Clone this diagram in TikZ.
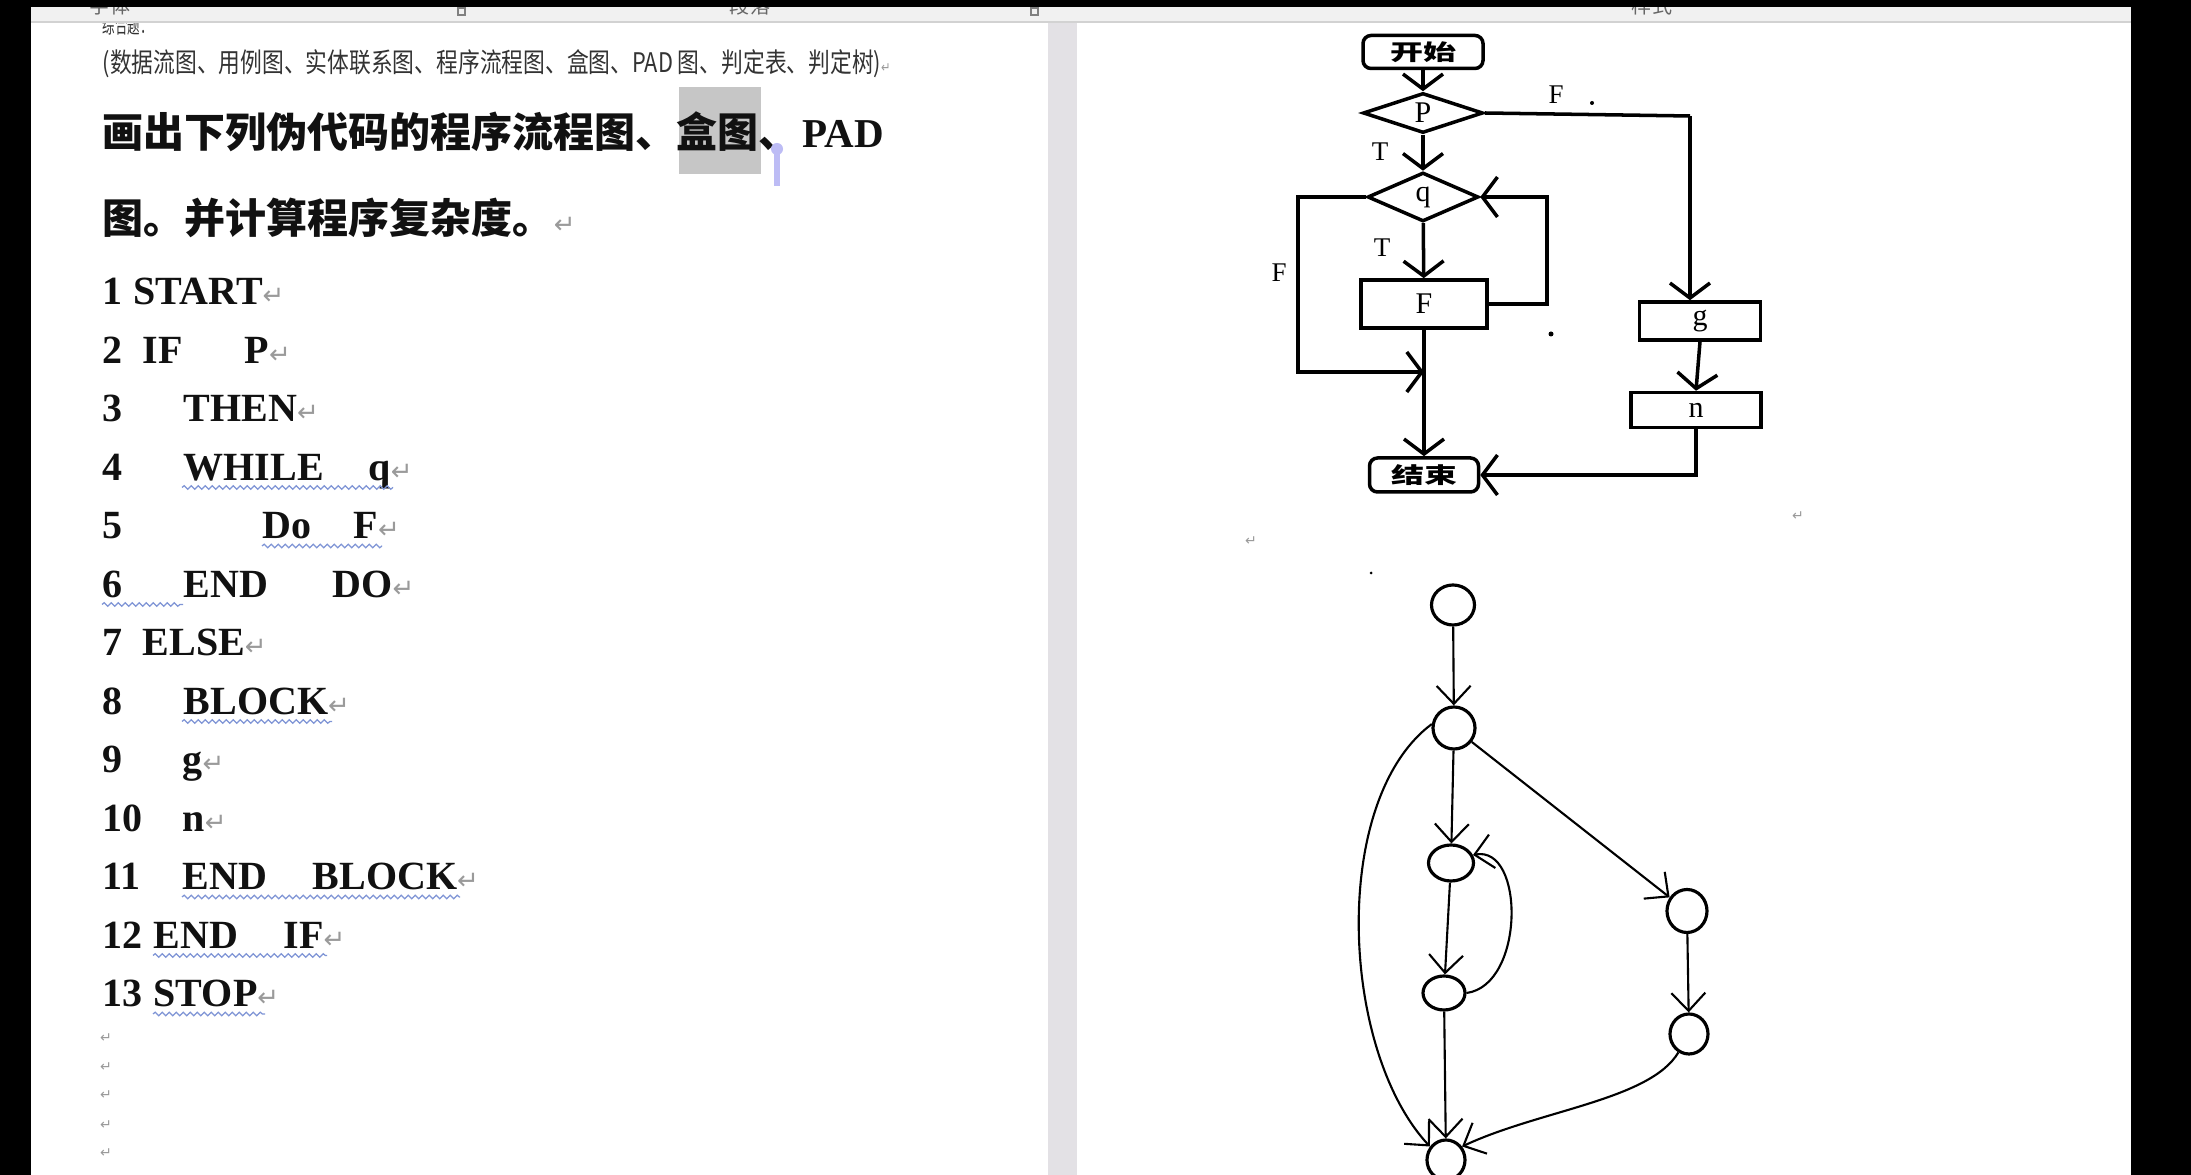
\documentclass[tikz,border=0pt]{standalone}
\usepackage{graphicx}
\usepackage{xcolor}
\usepackage{fontspec}
\setmainfont{Liberation Serif}
\newfontfamily\cjk{Noto Sans CJK SC}
\newfontfamily\symb{DejaVu Sans}
\usetikzlibrary{arrows.meta, shapes.geometric, decorations.pathmorphing, calc}

\newdimen\pxu \pxu=0.1mm
\definecolor{bargray}{HTML}{F1F1F1}
\definecolor{gapgray}{HTML}{E3E1E5}
\definecolor{hlgray}{HTML}{C6C6C6}
\definecolor{retgray}{HTML}{9A9A9A}
\definecolor{smallgray}{HTML}{333333}
\definecolor{inkblack}{HTML}{111111}
\definecolor{squigblue}{HTML}{7F95D6}
\definecolor{cursorblue}{HTML}{BDBCF5}
\newcommand{\ret}{{\mdseries\color{retgray}\symb\fontsize{7.4pt}{7.4pt}\selectfont ↵}}
\newcommand{\tinyret}{{\color{retgray}\symb\fontsize{4pt}{4pt}\selectfont ↵}}

\tikzset{
  codetxt/.style={anchor=base west, inner sep=0pt, text=inkblack,
    font=\fontsize{11.38pt}{12pt}\selectfont\bfseries},
  squiggle/.style={draw=squigblue, line width=0.35pt, decorate,
    decoration={snake, segment length=0.7mm, amplitude=0.18mm}},
  fcline/.style={line width=1pt},
  fcarrow/.style={fcline, -{Straight Barb[length=1.5mm, width=4mm]}},
  fcbox/.style={draw, line width=1pt, inner sep=0pt, font=\fontsize{8.54pt}{9pt}\selectfont},
  fcterm/.style={fcbox, rounded corners=0.8mm, font=\cjk\bfseries\fontsize{6.26pt}{7pt}\selectfont},
  fcdec/.style={fcbox, diamond, aspect=3},
  fclabel/.style={inner sep=0pt, font=\fontsize{7.68pt}{8pt}\selectfont},
  fgnode/.style={ellipse, draw, line width=0.9pt, inner sep=0pt},
  fgedge/.style={line width=0.6pt, -{Straight Barb[length=1.8mm, width=3.4mm]}},
  bartxt/.style={inner sep=0pt, text=black!60, font=\cjk\fontsize{5.7pt}{6pt}\selectfont}
}

\begin{document}
\begin{tikzpicture}[x=0.1mm, y=-0.1mm]
\useasboundingbox (0,0) rectangle (2191,1175);

% screen and pages
\fill[black] (0,0) rectangle (2191,1175);
\fill[white] (31,22) rectangle (1048,1175);
\fill[gapgray] (1048,22) rectangle (1077,1175);
\fill[white] (1077,22) rectangle (2131,1175);

% left page text
\node[anchor=base west, inner sep=0pt, text=smallgray, font=\cjk\fontsize{6.26pt}{7pt}\selectfont]
  (section) at (102,34) {\resizebox{50\pxu}{\height}{综合题：}};
\node[anchor=base west, inner sep=0pt, text=smallgray, font=\cjk\fontsize{7.68pt}{8pt}\selectfont]
  (typeList) at (102,73) {\resizebox{788\pxu}{\height}{(数据流图、用例图、实体联系图、程序流程图、盒图、PAD 图、判定表、判定树)\tinyret}};

\fill[hlgray] (679,87) rectangle (761,174);
\node[anchor=base west, inner sep=0pt, text=inkblack, font=\cjk\bfseries\fontsize{11.67pt}{12pt}\selectfont]
  (title1) at (102,148) {画出下列伪代码的程序流程图、盒图、};
\node[anchor=base west, inner sep=0pt, text=inkblack, font=\bfseries\fontsize{11.67pt}{12pt}\selectfont]
  (titlePad) at (802,148) {PAD};
\node[anchor=base west, inner sep=0pt, text=inkblack, font=\cjk\bfseries\fontsize{11.67pt}{12pt}\selectfont]
  (title2) at (102,234) {图。并计算程序复杂度。\ret};
\fill[cursorblue] (774,152) rectangle (780,186);
\fill[cursorblue] (777,149) circle (0.6mm);

% pseudo code
\foreach \i in {1,...,13}
  \node[codetxt] (num\i) at (102,{305+(\i-1)*58.5}) {\i};
\node[codetxt] (start) at (133,305) {START\ret};
\node[codetxt] (ifKw) at (142,363.5) {IF};
\node[codetxt] (ifP) at (244,363.5) {P\ret};
\node[codetxt] (thenKw) at (183,422) {THEN\ret};
\node[codetxt] (whileKw) at (183,480.5) {WHILE};
\node[codetxt] (whileQ) at (368,480.5) {q\ret};
\node[codetxt] (doKw) at (262,539) {Do};
\node[codetxt] (doF) at (353,539) {F\ret};
\node[codetxt] (endDo) at (183,597.5) {END};
\node[codetxt] (doEnd) at (332,597.5) {DO\ret};
\node[codetxt] (elseKw) at (142,656) {ELSE\ret};
\node[codetxt] (blockKw) at (183,714.5) {BLOCK\ret};
\node[codetxt] (stmtG) at (182,773) {g\ret};
\node[codetxt] (stmtN) at (182,831.5) {n\ret};
\node[codetxt] (endBlk) at (182,890) {END};
\node[codetxt] (blkEnd) at (312,890) {BLOCK\ret};
\node[codetxt] (endIf) at (153,948.5) {END};
\node[codetxt] (ifEnd) at (283,948.5) {IF\ret};
\node[codetxt] (stop) at (153,1007) {STOP\ret};
\foreach \y [count=\k] in {1038,1067,1095,1125,1153}
  \node[inner sep=0pt] (blank\k) at (106,\y) {\tinyret};

\draw[squiggle] (182,487.5) -- (393,487.5);
\draw[squiggle] (262,546) -- (382,546);
\draw[squiggle] (102,604.5) -- (183,604.5);
\draw[squiggle] (182,721.5) -- (332,721.5);
\draw[squiggle] (182,897) -- (460,897);
\draw[squiggle] (153,955.5) -- (327,955.5);
\draw[squiggle] (153,1014) -- (265,1014);

% flow chart
\node[fcterm, minimum width=12mm, minimum height=3.3mm] (fcStart) at (1423,52) {\scalebox{1.5}[1]{开始}};
\node[fcdec, minimum width=12mm, minimum height=4mm] (fcP) at (1423,113) {P};
\node[fcdec, minimum width=11.1mm, minimum height=4.9mm] (fcQ) at (1423,197) {q};
\node[fcbox, minimum width=12.6mm, minimum height=4.8mm] (fcF) at (1424,304) {F};
\node[fcterm, minimum width=10.9mm, minimum height=3.4mm] (fcEnd) at (1424,475) {\scalebox{1.5}[1]{结束}};
\node[fcbox, minimum width=12.1mm, minimum height=3.8mm] (fcG) at (1700,321) {g};
\node[fcbox, minimum width=13mm, minimum height=3.5mm] (fcN) at (1696,410) {n};
\coordinate (pTurn) at (1690,116);
\coordinate (qLeft) at (1298,197);
\coordinate (fcMerge) at (1424,372);
\coordinate (fRight) at (1547,304);

\draw[fcarrow] (fcStart) -- (fcP);
\draw[fcarrow] (fcP) -- (fcQ);
\draw[fcline] (fcP.east) -- (pTurn);
\draw[fcarrow] (pTurn) -- (pTurn |- fcG.north);
\draw[fcarrow] (fcQ) -- (fcF);
\draw[fcarrow] (fcQ.west) -- (qLeft) -- (qLeft |- fcMerge) -- (fcMerge);
\draw[fcarrow] (fcF.east) -- (fRight) |- (fcQ.east);
\draw[fcarrow] (fcF) -- (fcEnd);
\draw[fcarrow] (fcG.south) -- (fcN.north);
\draw[fcarrow] (fcN.south) |- (fcEnd.east);

\node[fclabel] (lblPF) at (1556,95) {F};
\node[fclabel] (lblPT) at (1380,152) {T};
\node[fclabel] (lblQF) at (1279,273) {F};
\node[fclabel] (lblQT) at (1382,248) {T};
\fill (1592,103) circle (0.2mm);
\fill (1551,334) circle (0.25mm);
\fill (1371,573) circle (0.15mm);
\node[inner sep=0pt] (retA) at (1251,541) {\tinyret};
\node[inner sep=0pt] (retB) at (1798,516) {\tinyret};

% flow graph
\node[fgnode, minimum width=4.3mm, minimum height=4mm] (v1) at (1453,605) {};
\node[fgnode, minimum width=4.2mm, minimum height=4.2mm] (v2) at (1454,728) {};
\node[fgnode, minimum width=4.5mm, minimum height=3.6mm] (v3) at (1451,863) {};
\node[fgnode, minimum width=4.2mm, minimum height=3.4mm] (v4) at (1444,993) {};
\node[fgnode, minimum width=4mm, minimum height=4.3mm] (v5) at (1687,911) {};
\node[fgnode, minimum width=3.8mm, minimum height=4mm] (v6) at (1689,1034) {};
\node[fgnode, minimum width=3.8mm, minimum height=4mm] (v7) at (1446,1160) {};

\draw[fgedge] (v1) -- (v2);
\draw[fgedge] (v2) -- (v3);
\draw[fgedge] (v3) -- (v4);
\draw[fgedge] (v4.east) .. controls (1525,985) and (1525,845) .. (v3.20);
\draw[fgedge] (v2) -- (v5);
\draw[fgedge] (v5) -- (v6);
\draw[fgedge] (v4) -- (v7);
\draw[fgedge] (v6.240) .. controls (1650,1100) and (1540,1110) .. (v7.40);
\draw[fgedge] (v2.170) .. controls (1330,800) and (1340,1050) .. (v7.140);

% tool bar
\fill[bargray] (31,7) rectangle (2131,22);
\draw[gray!35, line width=0.3pt] (31,22) -- (2131,22);
\node[bartxt] (barFont) at (110,6) {字体};
\node[bartxt] (barPara) at (750,6) {段落};
\node[bartxt] (barStyle) at (1652,6) {样式};
\draw[black!50, line width=0.3pt] (458,8) rectangle (465,15);
\draw[black!50, line width=0.3pt] (1031,8) rectangle (1038,15);
\fill[black] (0,0) rectangle (2191,7);
\end{tikzpicture}
\end{document}
